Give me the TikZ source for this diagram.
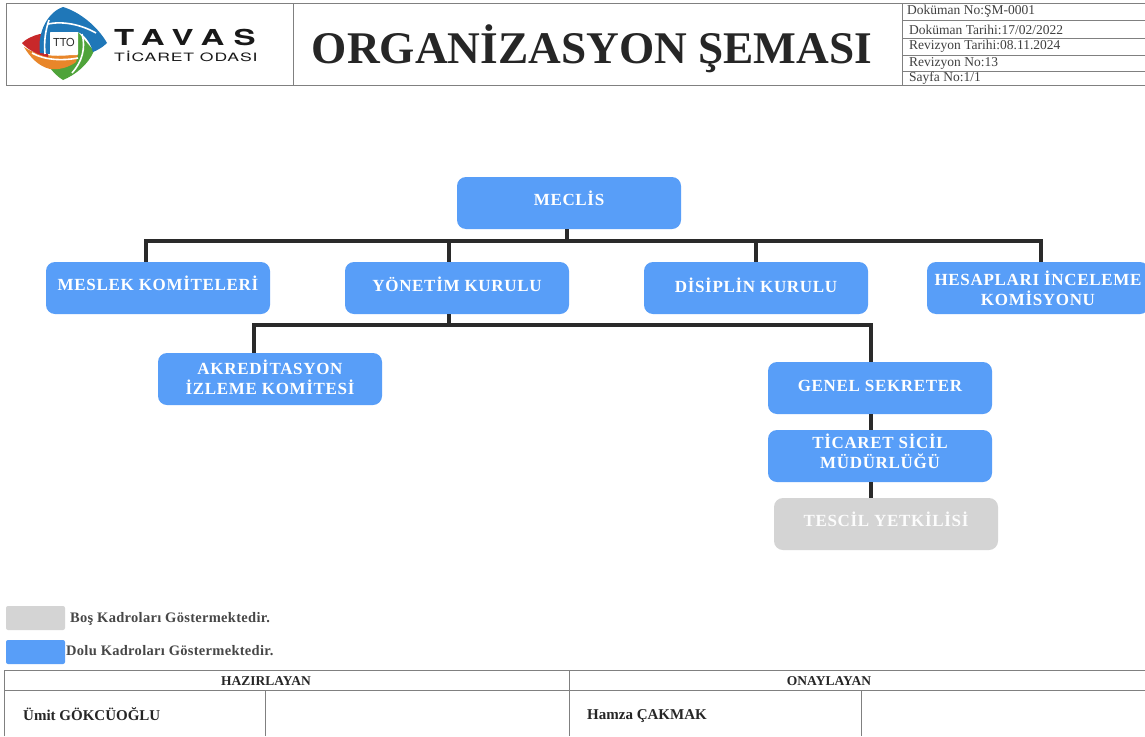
\documentclass[tikz,border=0pt]{standalone}
\usepackage{fontspec}
\setmainfont{Liberation Serif}
\newfontfamily\logofont{TeX Gyre Heros}
\usetikzlibrary{positioning}
\definecolor{dolu}{HTML}{589EF8}
\definecolor{bos}{HTML}{D4D4D4}
\definecolor{bar}{HTML}{2A2A2A}
\definecolor{rule}{HTML}{808080}
\definecolor{logoblue}{HTML}{1F77B8}
\definecolor{logored}{HTML}{C8282A}
\definecolor{logoorange}{HTML}{E8862A}
\definecolor{logogreen}{HTML}{4FA33A}
\newcommand{\lifted}[2]{\raisebox{#1}[0pt][0pt]{\begin{tabular}{@{}c@{}}#2\end{tabular}}}
\tikzset{
  unit/.style={rounded corners=9pt, minimum width=224pt, minimum height=52pt, inner sep=0pt,
      text=white, font=\bfseries\fontsize{17}{19.3}\selectfont\addfontfeature{LetterSpace=4}},
  dolubox/.style={unit, fill=dolu},
  bosbox/.style={unit, fill=bos, text=white!92!bos},
  link/.style={bar, line width=3.5pt},
  grid/.style={rule, line width=0.9pt},
  strap/.style={white, line width=1.6pt},
  info/.style={anchor=west, inner sep=0pt, text=black!75, font=\fontsize{13.5}{15}\selectfont},
  note/.style={anchor=west, inner sep=0pt, text=black!72, font=\bfseries\fontsize{14.5}{16}\selectfont\addfontfeature{LetterSpace=2}},
  sign/.style={inner sep=0pt, text=black!85, font=\bfseries\fontsize{15}{17}\selectfont},
  headsign/.style={inner sep=0pt, text=black!85, font=\bfseries\fontsize{13.5}{15}\selectfont}
}
\begin{document}
\begin{tikzpicture}[x=1pt, y=-1pt]
    \useasboundingbox (0,0) rectangle (1145,736);
    \fill[white] (0,0) rectangle (1145,736);
    % Header frame
    \draw[grid] (6,3) rectangle (1145,85);
    \draw[grid] (293,3) -- (293,85);
    \draw[grid] (902,3) -- (902,85);
    \foreach \y in {20,38,55,71} {
            \draw[grid] (902,\y) -- (1145,\y);
        }
    % Logo
    \fill[logogreen] (78,32) -- (94,51) .. controls (88,65) and (75,75) .. (63,80) .. controls (58,77) and (54,73) .. (50,68) -- (78,55) -- cycle;
    \fill[logoorange] (24,47) .. controls (35,55) and (55,58) .. (78,54) -- (76,62) .. controls (68,68) and (58,70) .. (50,69) .. controls (38,66) and (30,57) .. (24,47) -- cycle;
    \fill[logored] (22,43) .. controls (26,39) and (32,36) .. (40,34) -- (48,36) -- (48,57) .. controls (38,55) and (28,50) .. (22,43) -- cycle;
    \fill[logoblue] (40,53) .. controls (37,32) and (48,12) .. (63,7) .. controls (80,12) and (98,27) .. (107,43) .. controls (103,47) and (98,50) .. (93,52) .. controls (90,42) and (85,35) .. (78,32) -- (50,32) -- (50,54) -- cycle;
    \fill[white, rounded corners=1pt] (50,32) rectangle (78,55);
    \draw[strap] (45,54) .. controls (44,42) and (45,32) .. (49,20);
    \draw[strap] (48,24) .. controls (62,21) and (80,24) .. (96,33);
    \draw[strap] (32,53) .. controls (44,60) and (62,61) .. (78,58);
    \draw[strap] (82,34) .. controls (86,48) and (82,62) .. (72,73);
    \node[inner sep=0pt, text=black!85, font=\logofont\fontsize{11}{11}\selectfont] (ttoname) at (64,42.5) {TTO};
    \node[anchor=west, inner sep=0pt, text=black!90, font=\fontsize{22}{22}\selectfont] (logotop) at (114,37) {\scalebox{1.5}[1]{\logofont\addfontfeature{LetterSpace=28}\bfseries TAVAS}};
    \node[anchor=west, inner sep=0pt, text=black!90, font=\fontsize{11.5}{12}\selectfont] (logosub) at (114,56.5) {\scalebox{1.53}[1]{\logofont\addfontfeature{LetterSpace=5}TİCARET ODASI}};
    % Title
    \node[inner sep=0pt, text=black!85, font=\bfseries\fontsize{45.3}{46}\selectfont] (title) at (592,49) {ORGANİZASYON ŞEMASI};
    % Document data
    \foreach \y/\t/\x in {11/{Doküman No:ŞM-0001}/907, 29.5/{Doküman Tarihi:17/02/2022}/909, 46.5/{Revizyon Tarihi:08.11.2024}/909, 63/{Revizyon No:13}/909, 78.5/{Sayfa No:1/1}/909} {
            \node[info] at (\x,\y) {\t};
        }
    % Boxes
    \node[dolubox] (meclis) at (569,203) {\lifted{-2pt}{MECLİS}};
    \node[dolubox] (meslek) at (158,288) {\lifted{-2pt}{MESLEK KOMİTELERİ}};
    \node[dolubox] (yonetim) at (457,288) {\lifted{-3pt}{YÖNETİM KURULU}};
    \node[dolubox] (disiplin) at (756,288) {\lifted{-4pt}{DİSİPLİN KURULU}};
    \node[dolubox, minimum width=222pt] (hesap) at (1038,288) {\lifted{-7.5pt}{HESAPLARI İNCELEME\\KOMİSYONU}};
    \node[dolubox] (akredite) at (270,379) {\lifted{-5.5pt}{AKREDİTASYON\\İZLEME KOMİTESİ}};
    \node[dolubox] (sekreter) at (880,388) {\lifted{-4pt}{GENEL SEKRETER}};
    \node[dolubox] (sicil) at (880,456) {\lifted{-2.5pt}{TİCARET SİCİL\\MÜDÜRLÜĞÜ}};
    \node[bosbox] (tescil) at (886,524) {\lifted{-2pt}{TESCİL YETKİLİSİ}};
    % Upper bus
    \coordinate (topleft) at (146,241);
    \coordinate (topmid) at (567,241);
    \coordinate (topyon) at (449,241);
    \coordinate (topdis) at (756,241);
    \coordinate (topright) at (1041,241);
    \draw[link] (topmid) -- (topmid |- meclis.south);
    \draw[link, line cap=rect] (topleft) -- (topright);
    \draw[link] (topleft) -- (topleft |- meslek.north);
    \draw[link] (topyon) -- (topyon |- yonetim.north);
    \draw[link] (topdis) -- (disiplin.north);
    \draw[link] (topright) -- (topright |- hesap.north);
    % Lower bus
    \coordinate (lowleft) at (254,325);
    \coordinate (lowmid) at (449,325);
    \coordinate (lowright) at (871,325);
    \draw[link] (lowmid) -- (lowmid |- yonetim.south);
    \draw[link, line cap=rect] (lowleft) -- (lowright);
    \draw[link] (lowleft) -- (lowleft |- akredite.north);
    \draw[link] (lowright) -- (lowright |- sekreter.north);
    \coordinate (chain) at (871,414);
    \draw[link] (chain) -- (chain |- sicil.north);
    \coordinate (chainlow) at (871,482);
    \draw[link] (chainlow) -- (chainlow |- tescil.north);
    % Legend
    \fill[bos, rounded corners=2pt] (6,606) rectangle (65,630);
    \fill[dolu, rounded corners=2pt] (6,640) rectangle (65,664);
    \node[note] (bosnote) at (70,619) {Boş Kadroları Göstermektedir.};
    \node[note] (dolunote) at (66,651) {Dolu Kadroları Göstermektedir.};
    % Signature table
    \draw[grid] (4,736) -- (4,670) -- (1145,670);
    \draw[grid] (4,690) -- (1145,690);
    \draw[grid] (569,670) -- (569,736);
    \draw[grid] (265,690) -- (265,736);
    \draw[grid] (861,690) -- (861,736);
    \node[headsign] (hazir) at (266,681) {HAZIRLAYAN};
    \node[headsign] (onay) at (829,681) {ONAYLAYAN};
    \node[sign, anchor=west] (umit) at (23,714.5) {Ümit GÖKCÜOĞLU};
    \node[sign, anchor=west] (hamza) at (587,716) {Hamza ÇAKMAK};
\end{tikzpicture}
\end{document}
